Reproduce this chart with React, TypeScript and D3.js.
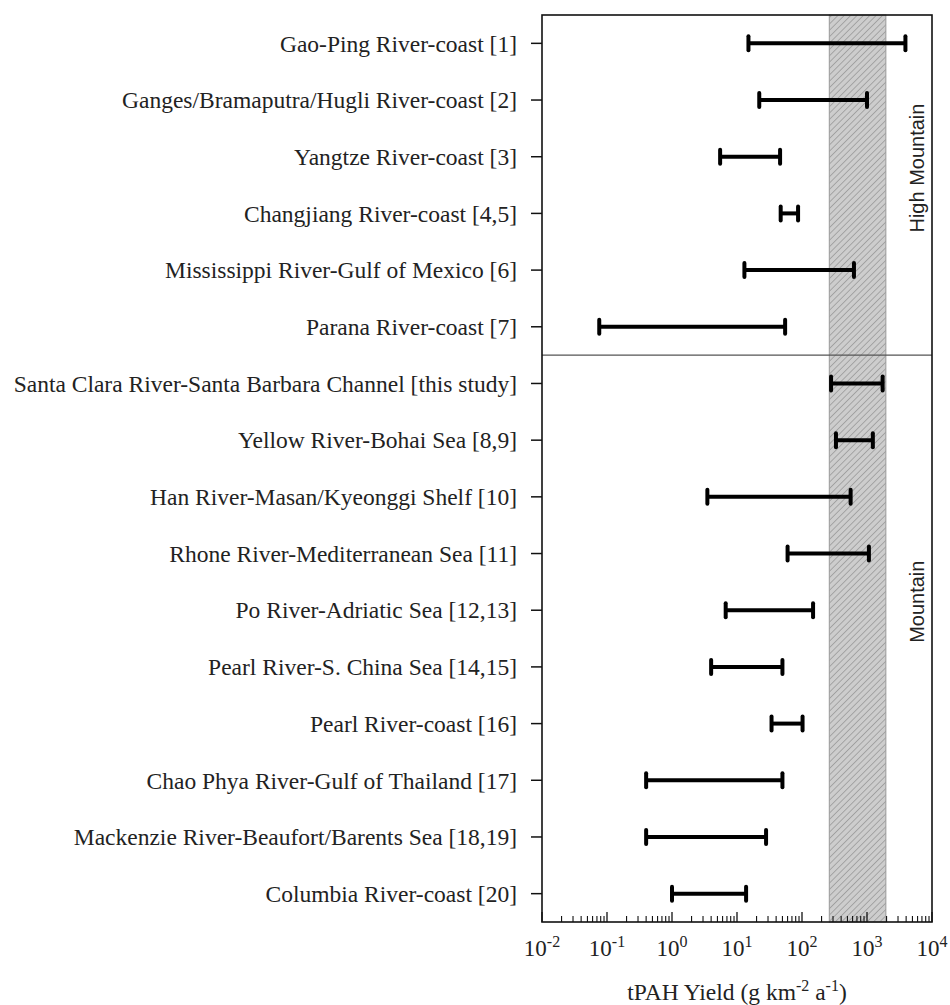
import React from "react";
import * as d3 from "d3";

const categories = [
  "Gao-Ping River-coast [1]",
  "Ganges/Bramaputra/Hugli River-coast [2]",
  "Yangtze River-coast [3]",
  "Changjiang River-coast [4,5]",
  "Mississippi River-Gulf of Mexico [6]",
  "Parana River-coast [7]",
  "Santa Clara River-Santa Barbara Channel [this study]",
  "Yellow River-Bohai Sea [8,9]",
  "Han River-Masan/Kyeonggi Shelf [10]",
  "Rhone River-Mediterranean Sea [11]",
  "Po River-Adriatic Sea [12,13]",
  "Pearl River-S. China Sea [14,15]",
  "Pearl River-coast [16]",
  "Chao Phya River-Gulf of Thailand [17]",
  "Mackenzie River-Beaufort/Barents Sea [18,19]",
  "Columbia River-coast [20]",
];
const lowValues = [15, 22, 5.5, 47, 13, 0.076, 280, 333, 3.5, 60, 6.7, 4, 34, 0.4, 0.4, 1.0];
const highValues = [3900, 1000, 46, 87, 630, 55, 1740, 1230, 560, 1070, 148, 50, 102, 50, 28, 13.8];
const bandRange = [263, 1950];
const tickExponents = [-2, -1, 0, 1, 2, 3, 4];
const regionLabels = ["High Mountain", "Mountain"];

const W = 950;
const H = 1005;
const L = 542, R = 932, T = 15, B = 922;

export default function App() {
  const x = d3.scaleLog().domain([1e-2, 1e4]).range([L, R]);
  const y = d3.scalePoint<string>().domain(categories).range([T, B]).padding(0.5);
  const step = y.step();
  const dividerY = (y(categories[5])! + y(categories[6])!) / 2;

  const minor: number[] = [];
  for (let e = -2; e < 4; e++) {
    for (let m = 2; m <= 9; m++) minor.push(m * Math.pow(10, e));
  }
  const serif = "'Liberation Serif', 'Times New Roman', serif";
  const sans = "'Liberation Sans', Arial, sans-serif";

  return (
    <svg width={W} height={H} style={{ position: "absolute", left: 0, top: 0, background: "#fff" }}>
      <defs>
        <pattern id="hatch" width="4.5" height="4.5" patternUnits="userSpaceOnUse" patternTransform="rotate(45)">
          <rect width="4.5" height="4.5" fill="#cdcdcd" />
          <line x1="0" y1="0" x2="0" y2="4.5" stroke="#8a8a8a" strokeWidth="1.2" />
        </pattern>
      </defs>
      <rect width={W} height={H} fill="#fff" />
      {/* hatched band */}
      <rect
        x={x(bandRange[0])}
        y={T}
        width={x(bandRange[1]) - x(bandRange[0])}
        height={B - T}
        fill="url(#hatch)"
        stroke="#999"
        strokeWidth={1}
      />
      {/* divider */}
      <line x1={L} x2={R} y1={dividerY} y2={dividerY} stroke="#555" strokeWidth={1.3} />
      {/* bars */}
      {categories.map((c, i) => {
        const yy = y(c)!;
        const x0 = x(lowValues[i]);
        const x1 = x(highValues[i]);
        return (
          <g key={c}>
            <line x1={x0} x2={x1} y1={yy} y2={yy} stroke="#000" strokeWidth={4} />
            <line x1={x0} x2={x0} y1={yy - 7} y2={yy + 7} stroke="#000" strokeWidth={4} strokeLinecap="round" />
            <line x1={x1} x2={x1} y1={yy - 7} y2={yy + 7} stroke="#000" strokeWidth={4} strokeLinecap="round" />
          </g>
        );
      })}
      {/* frame */}
      <rect x={L} y={T} width={R - L} height={B - T} fill="none" stroke="#111" strokeWidth={1.6} />
      {/* y ticks and labels */}
      {categories.map((c) => {
        const yy = y(c)!;
        return (
          <g key={"l" + c}>
            <line x1={L - 11} x2={L} y1={yy} y2={yy} stroke="#111" strokeWidth={1.5} />
            <text x={517} y={yy} dy="0.35em" textAnchor="end" fontFamily={serif} fontSize={23.5} fill="#222">
              {c}
            </text>
          </g>
        );
      })}
      {/* x ticks */}
      {tickExponents.map((e) => (
        <line key={"M" + e} x1={x(Math.pow(10, e))} x2={x(Math.pow(10, e))} y1={B} y2={B - 10} stroke="#111" strokeWidth={1.3} />
      ))}
      {minor.map((v, i) => (
        <line key={"m" + i} x1={x(v)} x2={x(v)} y1={B} y2={B - 6} stroke="#111" strokeWidth={1.1} />
      ))}
      {tickExponents.map((e) => (
        <text key={"t" + e} x={x(Math.pow(10, e))} y={956} textAnchor="middle" fontFamily={serif} fontSize={23} fill="#222">
          10<tspan dy={-9} fontSize={16}>{e}</tspan>
        </text>
      ))}
      {/* axis title */}
      <text x={(L + R) / 2} y={1000} textAnchor="middle" fontFamily={serif} fontSize={23.5} fill="#222">
        tPAH Yield (g km<tspan dy={-9} fontSize={16}>-2</tspan>
        <tspan dy={9}> a</tspan>
        <tspan dy={-9} fontSize={16}>-1</tspan>
        <tspan dy={9}>)</tspan>
      </text>
      {/* region labels */}
      <text
        transform={`translate(${917},${y(categories[2])! + step * 0.2}) rotate(-90)`}
        textAnchor="middle"
        dy="0.35em"
        fontFamily={sans}
        fontSize={20}
        fill="#222"
      >
        {regionLabels[0]}
      </text>
      <text
        transform={`translate(${917},${y(categories[10])! - step * 0.15}) rotate(-90)`}
        textAnchor="middle"
        dy="0.35em"
        fontFamily={sans}
        fontSize={20}
        fill="#222"
      >
        {regionLabels[1]}
      </text>
    </svg>
  );
}
